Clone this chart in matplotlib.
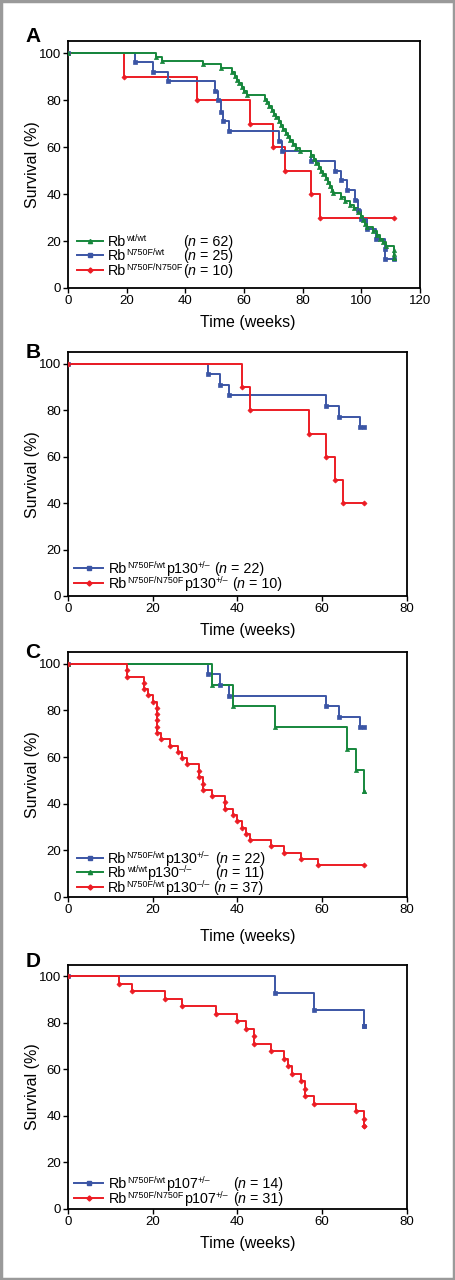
import matplotlib
matplotlib.use("Agg")
import matplotlib.pyplot as plt
from matplotlib.patches import Rectangle

plt.rcParams['font.family'] = ['Liberation Sans', 'DejaVu Sans']

GREEN = '#16873c'
BLUE = '#3b55a5'
RED = '#ec1c24'

# ---- Panel A data (weeks, survival %) ----
a_wt_t = [0, 30, 32, 46, 52, 56, 56.8, 57.6, 58.4, 59.2, 60, 61,
          67, 67.8, 68.6, 69.4, 70.2, 71, 71.8, 72.6, 73.4, 74.2, 75, 75.8,
          76.6, 77.6, 79,
          83, 83.8, 84.6, 85.4, 86.2, 87, 87.8, 88.6, 89.4, 90, 90.5,
          93, 94.5, 96, 97.5, 99,
          100, 100.7, 101.4, 102,
          104, 105.5, 106.5, 107.5, 108.5,
          111, 111, 111]
a_wt_s = [100, 98.4, 96.8, 95.2, 93.5, 91.9, 90.3, 88.7, 87.1, 85.5, 83.9, 82.3,
          80.6, 79.0, 77.4, 75.8, 74.2, 72.6, 71.0, 69.4, 67.7, 66.1, 64.5, 62.9,
          61.3, 59.7, 58.1,
          56.5, 54.8, 53.2, 51.6, 50.0, 48.4, 46.8, 45.2, 43.5, 41.9, 40.3,
          38.7, 37.1, 35.5, 33.9, 32.3,
          30.6, 29.0, 27.4, 25.8,
          24.2, 22.6, 21.0, 19.4, 17.7,
          16.1, 14.5, 12.9]
a_het_t = [0, 23, 29, 34, 50, 51, 52, 53, 55, 72, 73, 83, 91, 93, 95, 98, 99,
           100, 102, 105, 108, 108]
a_het_s = [100, 96, 92, 88, 84, 80, 75, 71, 67, 62.5, 58.3, 54.2, 50, 45.8,
           41.7, 37.5, 33.3, 29.2, 25, 20.8, 16.7, 12.5]
a_hom_t = [0, 19, 44, 62, 70, 74, 83, 86]
a_hom_s = [100, 90, 80, 70, 60, 50, 40, 30]

# ---- Panel B / C shared series: Rb N750F/wt p130+/- ----
p130het_t = [0, 33, 36, 38, 61, 64, 69]
p130het_s = [100, 95.5, 90.9, 86.4, 81.8, 77.3, 72.7]

# ---- Panel B ----
b_hom_t = [0, 41, 43, 57, 61, 63, 65]
b_hom_s = [100, 90, 80, 70, 60, 50, 40]

# ---- Panel C ----
c_wt_t = [0, 34, 39, 49, 66, 68, 70]
c_wt_s = [100, 90.9, 81.8, 72.7, 63.6, 54.5, 45.5]
c_ko_t = [0, 14, 14, 18, 18, 19, 20, 21, 21, 21, 21, 21, 22, 24, 26, 27, 28,
          31, 31, 32, 32, 34, 37, 37, 39, 40, 41, 42, 43, 48, 51, 55, 59]
c_ko_s = [100, 97.3, 94.6, 91.9, 89.2, 86.5, 83.8, 81.1, 78.4, 75.7, 73.0,
          70.3, 67.6, 64.9, 62.2, 59.5, 56.8, 54.1, 51.4, 48.6, 45.9, 43.2,
          40.5, 37.8, 35.1, 32.4, 29.7, 27.0, 24.3, 21.6, 18.9, 16.2, 13.5]

# ---- Panel D ----
d_het_t = [0, 49, 58, 70]
d_het_s = [100, 92.9, 85.7, 78.6]
d_hom_t = [0, 12, 15, 23, 27, 35, 40, 42, 44, 44, 48, 51, 52, 53, 55, 56, 56,
           58, 68, 70, 70]
d_hom_s = [100, 96.8, 93.5, 90.3, 87.1, 83.9, 80.6, 77.4, 74.2, 71.0, 67.7,
           64.5, 61.3, 58.1, 54.8, 51.6, 48.4, 45.2, 41.9, 38.7, 35.5]

# legend label pieces: (text, kind)  kind = 'n' normal, 's' superscript
DASH = '\u2013'
RB_WT = [('Rb', 'n'), ('wt/wt', 's')]
RB_HET = [('Rb', 'n'), ('N750F/wt', 's')]
RB_HOM = [('Rb', 'n'), ('N750F/N750F', 's')]
P130_HET = [('p130', 'n'), ('+/' + DASH, 's')]
P130_KO = [('p130', 'n'), (DASH + '/' + DASH, 's')]
P107_HET = [('p107', 'n'), ('+/' + DASH, 's')]


def n_label(n):
    return [('(', 'n'), ('n', 'i'), (' = %d)' % n, 'n')]


W, H = 455.0, 1280.0
FS = 10.3
fig = plt.figure(figsize=(W / 100, H / 100), dpi=100)
renderer = fig.canvas.get_renderer()

# grey frame round the whole figure
fig.patches.append(Rectangle((0.002, 0.001), 0.996, 0.998, transform=fig.transFigure,
                             fill=False, edgecolor='#9a9a9a', linewidth=2.5))


def rich(xpx, base_px, parts):
    """Draw pieces of text one after another, x and baseline in pixels from top-left."""
    for s, kind in parts:
        size = FS * 0.62 if kind == 's' else FS
        rise = 5.0 if kind == 's' else 0.0
        style = 'italic' if kind == 'i' else 'normal'
        t = fig.text(xpx / W, 1 - (base_px - rise) / H, s, fontsize=size,
                     style=style, va='baseline', ha='left')
        xpx = t.get_window_extent(renderer).x1
        if s.endswith(' '):
            xpx += 3
    return xpx


def make_axes(top, bottom, right):
    ax = fig.add_axes([68 / W, 1 - bottom / H, (right - 68) / W, (bottom - top) / H])
    for sp in ax.spines.values():
        sp.set_linewidth(1.3)
    ax.tick_params(direction='out', length=3.5, width=1.0, labelsize=9.5, pad=1.5)
    ax.set_ylim(0, 105)
    ax.set_yticks([0, 20, 40, 60, 80, 100])
    return ax


def km(ax, t, s, end, color, marker, ms):
    tt = list(t) + [end]
    ss = list(s) + [s[-1]]
    ax.step(tt, ss, where='post', color=color, lw=1.4, zorder=3)
    ax.plot(tt, ss, ls='none', marker=marker, ms=ms, color=color, zorder=4,
            markeredgewidth=0.5)


def legend_row(ypx, color, marker, ms, label, nlab, nx, x0, x1, tx):
    """ypx: line height in pixels; nx: column of the n text (None = follow on)."""
    yf = 1 - ypx / H
    fig.add_artist(plt.Line2D([x0 / W, x1 / W], [yf, yf], color=color, lw=1.4))
    fig.add_artist(plt.Line2D([(x0 + x1) / 2 / W], [yf], color=color,
                              marker=marker, ms=ms, lw=0))
    end = rich(tx, ypx + 5, label)
    rich(nx if nx is not None else end + 4, ypx + 5, nlab)


def panel_text(letter, ypx_letter, ypx_xlabel, top, bottom):
    fig.text(33 / W, 1 - ypx_letter / H, letter, fontsize=15, fontweight='bold',
             ha='center', va='center')
    fig.text(248 / W, 1 - ypx_xlabel / H, 'Time (weeks)', fontsize=11.5,
             ha='center', va='center')
    fig.text(33 / W, 1 - (top + bottom) / 2 / H, 'Survival (%)', fontsize=11.5,
             rotation=90, ha='center', va='center')


# ---- A ----
axA = make_axes(41.3, 288, 420)
axA.set_xlim(0, 120)
axA.set_xticks(range(0, 121, 20))
km(axA, a_hom_t, a_hom_s, 111, RED, 'D', 2.6)
km(axA, a_het_t, a_het_s, 111, BLUE, 's', 3.0)
km(axA, a_wt_t, a_wt_s, 111, GREEN, '^', 3.0)
legend_row(240.7, GREEN, '^', 3.0, RB_WT, n_label(62), 183, 77, 103, 108)
legend_row(255.3, BLUE, 's', 3.0, RB_HET, n_label(25), 183, 77, 103, 108)
legend_row(270.0, RED, 'D', 2.6, RB_HOM, n_label(10), 183, 77, 103, 108)
panel_text('A', 36, 322.7, 41.3, 288)

# ---- B ----
axB = make_axes(352.3, 596, 406.7)
axB.set_xlim(0, 80)
axB.set_xticks(range(0, 81, 20))
km(axB, p130het_t, p130het_s, 70, BLUE, 's', 3.0)
km(axB, b_hom_t, b_hom_s, 70, RED, 'D', 2.6)
legend_row(567.7, BLUE, 's', 3.0, RB_HET + P130_HET, n_label(22), None, 74, 103, 109.3)
legend_row(583.3, RED, 'D', 2.6, RB_HOM + P130_HET, n_label(10), None, 74, 103, 109.3)
panel_text('B', 352.7, 630.7, 352.3, 596)

# ---- C ----
axC = make_axes(652.3, 896.7, 406.7)
axC.set_xlim(0, 80)
axC.set_xticks(range(0, 81, 20))
km(axC, p130het_t, p130het_s, 70, BLUE, 's', 3.0)
km(axC, c_wt_t, c_wt_s, 70, GREEN, '^', 3.0)
km(axC, c_ko_t, c_ko_s, 70, RED, 'D', 2.6)
legend_row(857.7, BLUE, 's', 3.0, RB_HET + P130_HET, n_label(22), 215, 76.7, 103.3, 108.3)
legend_row(872.3, GREEN, '^', 3.0, RB_WT + P130_KO, n_label(11), 215, 76.7, 103.3, 108.3)
legend_row(886.7, RED, 'D', 2.6, RB_HET + P130_KO, n_label(37), None, 76.7, 103.3, 108.3)
panel_text('C', 653, 936.7, 652.3, 896.7)

# ---- D ----
axD = make_axes(964.7, 1208.7, 406.7)
axD.set_xlim(0, 80)
axD.set_xticks(range(0, 81, 20))
km(axD, d_het_t, d_het_s, 70, BLUE, 's', 3.0)
km(axD, d_hom_t, d_hom_s, 70, RED, 'D', 2.6)
legend_row(1183.3, BLUE, 's', 3.0, RB_HET + P107_HET, n_label(14), 233.3, 74, 103, 109.3)
legend_row(1198.3, RED, 'D', 2.6, RB_HOM + P107_HET, n_label(31), 233.3, 74, 103, 109.3)
panel_text('D', 961.7, 1243.3, 964.7, 1208.7)

fig.savefig('out.png', dpi=100)
